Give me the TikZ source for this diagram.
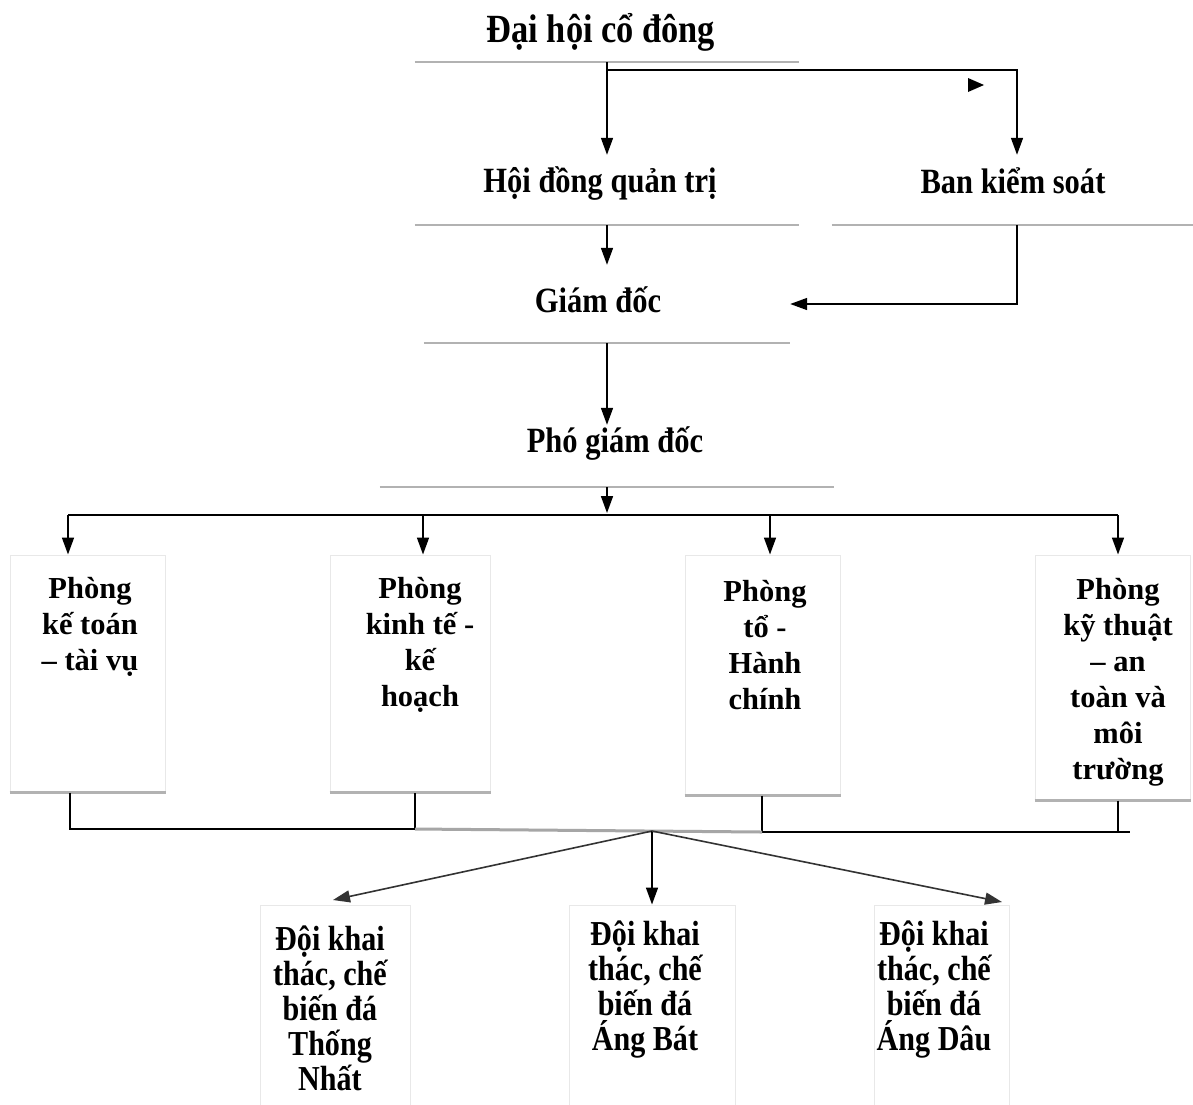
\documentclass[tikz,border=0pt]{standalone}
\usepackage{fontspec}
\setmainfont{Liberation Serif}
\newfontfamily\condfont[FakeStretch=0.86]{Liberation Serif}
\usetikzlibrary{arrows.meta,calc}
\begin{document}
\begin{tikzpicture}[x=1pt,y=-1pt,
  conn/.style={line width=1.6pt,black},
  arr/.style={conn,-{Triangle[length=17pt,width=12pt]}},
  topbox/.style={draw=none,inner sep=0pt},
  roombox/.style={draw=gray!18,line width=1pt,inner sep=0pt},
  edge/.style={gray!60,line width=2.2pt},
  ttl/.style={inner sep=0pt,font=\condfont\bfseries\fontsize{35.5}{40}\selectfont},
  room/.style={inner sep=0pt,align=center,font=\bfseries\fontsize{30.5}{36}\selectfont},
  team/.style={inner sep=0pt,align=center,font=\condfont\bfseries\fontsize{35}{35}\selectfont}]
\useasboundingbox[fill=white] (0,0) rectangle (1193,1104);

% boxes
\node[topbox,minimum width=384pt,minimum height=62pt] (dhcdB) at (607,31) {};
\node[topbox,minimum width=384pt,minimum height=70pt] (hdqtB) at (607,190) {};
\node[topbox,minimum width=370pt,minimum height=70pt] (bksB) at (1017,190) {};
\node[topbox,minimum width=366pt,minimum height=78pt] (gdB) at (607,304) {};
\node[topbox,minimum width=454pt,minimum height=62pt] (pgdB) at (607,456) {};
\node[roombox,minimum width=155pt,minimum height=237pt] (p1B) at (87.5,673.5) {};
\node[roombox,minimum width=160pt,minimum height=237pt] (p2B) at (410,673.5) {};
\node[roombox,minimum width=155pt,minimum height=240pt] (p3B) at (762.5,675) {};
\node[roombox,minimum width=155pt,minimum height=245pt] (p4B) at (1112.5,677.5) {};
\node[roombox,minimum width=150pt,minimum height=200pt] (b1B) at (335,1005) {};
\node[roombox,minimum width=166pt,minimum height=200pt] (b2B) at (652,1005) {};
\node[roombox,minimum width=135pt,minimum height=200pt] (b3B) at (942,1005) {};

% faint lower edges of boxes
\foreach \b in {dhcdB,hdqtB,bksB,gdB,pgdB,p1B,p2B,p3B,p4B}
  \draw[edge] (\b.south west) -- (\b.south east);

% texts
\node[ttl,font=\condfont\bfseries\fontsize{40}{44}\selectfont] (dhcd) at (601,32) {Đại hội cổ đông};
\node[ttl] (hdqt) at (600,183) {Hội đồng quản trị};
\node[ttl] (bks) at (1013,181) {Ban kiểm soát};
\node[ttl] (gd) at (598,300) {Giám đốc};
\node[ttl] (pgd) at (615,443) {Phó giám đốc};
\node[room] (p1) at (90,627) {Phòng\\kế toán\\– tài vụ};
\node[room] (p2) at (420,645) {Phòng\\kinh tế -\\kế\\hoạch};
\node[room] (p3) at (765,645) {Phòng\\tổ -\\Hành\\chính};
\node[room] (p4) at (1118,682) {Phòng\\kỹ thuật\\– an\\toàn và\\môi\\trường};
\node[team] (b1) at (330,1008) {Đội khai\\thác, chế\\biến đá\\Thống\\Nhất};
\node[team] (b2) at (645,990) {Đội khai\\thác, chế\\biến đá\\Áng Bát};
\node[team] (b3) at (934,990) {Đội khai\\thác, chế\\biến đá\\Áng Dâu};

% upper connectors
\draw[arr] (dhcdB.south) -- (hdqtB.north);
\draw[arr] ([yshift=-8pt]dhcdB.south) -| (bksB.north);
\fill (968,78) -- (984,85) -- (968,92) -- cycle;
\draw[arr] (hdqtB.south) -- (gdB.north);
\draw[arr] (bksB.south) |- (gdB.east);
\draw[arr] (gdB.south) -- (pgdB.north);

% bus to rooms
\coordinate (bus) at (607,515);
\coordinate (d1) at (68,515);
\coordinate (d2) at (423,515);
\coordinate (d3) at (770,515);
\coordinate (d4) at (1118,515);
\draw[arr] (pgdB.south) -- ([yshift=2pt]bus);
\draw[conn] (d1) -- (d4);
\draw[arr] (d1) -- (d1 |- p1B.north);
\draw[arr] (d2) -- (d2 |- p2B.north);
\draw[arr] (d3) -- (d3 |- p3B.north);
\draw[arr] (d4) -- (d4 |- p4B.north);

% lower bus
\coordinate (u1) at (70,829);
\coordinate (u2) at (415,829);
\coordinate (u3) at (762,832);
\coordinate (u4) at (1118,832);
\coordinate (uend) at (1130,832);
\coordinate (J) at (652,831);
\draw[conn] (u1 |- p1B.south) -- (u1) -- (u2) -- (u2 |- p2B.south);
\draw[conn] (u3 |- p3B.south) -- (u3) -- (uend);
\draw[conn] (u4 |- p4B.south) -- (u4);
\draw[gray!70,line width=3pt] (u2) -- (u3);

% to teams
\coordinate (t1) at (333,900);
\coordinate (t3) at (1002,902);
\draw[arr,black!80] (J) -- (t1);
\draw[arr] (J) -- (J |- b2B.north);
\draw[arr,black!80] (J) -- (t3);
\end{tikzpicture}
\end{document}
